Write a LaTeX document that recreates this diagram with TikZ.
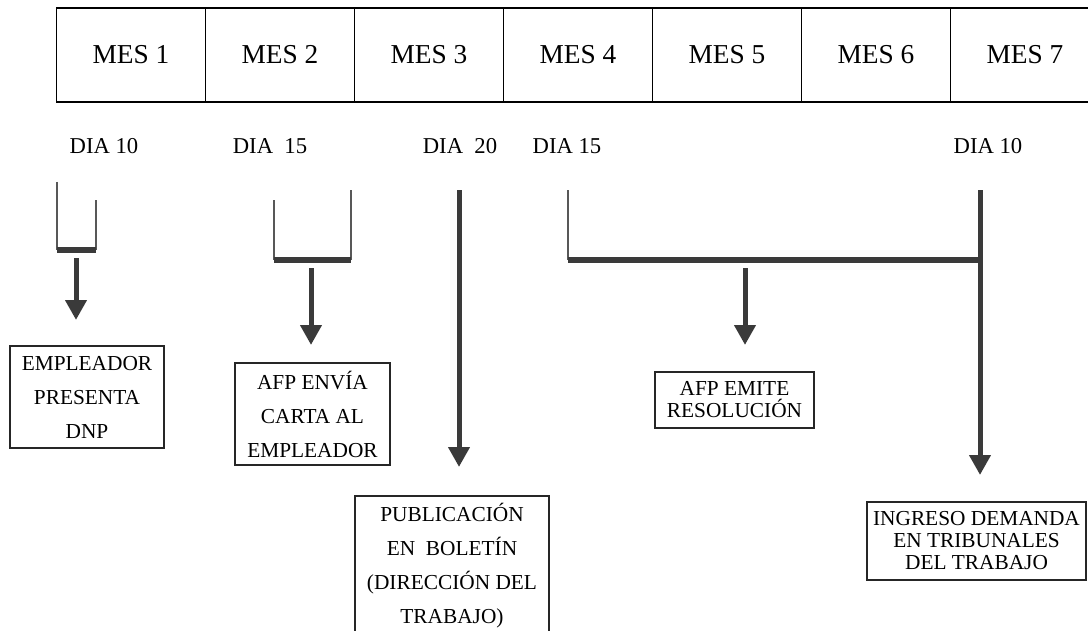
\documentclass[tikz,border=0pt]{standalone}
\usepackage{fontspec}
\setmainfont{Liberation Serif}
\usepackage{xcolor}
\usepackage{tikz}
\usetikzlibrary{positioning,arrows.meta}
\definecolor{linea}{HTML}{3A3A3A}

\begin{document}
\begin{tikzpicture}[
    x=0.75pt, y=-0.75pt,
    mes/.style={rectangle, draw=black, line width=1.1pt, minimum width=111.75pt, minimum height=70.5pt, inner sep=0pt, outer sep=0pt, font=\fontsize{20.5}{24}\selectfont},
    dia/.style={inner sep=0pt, font=\fontsize{17}{20}\selectfont},
    caja/.style={rectangle, draw=black!85, line width=1pt, align=center, inner sep=2pt, font=\fontsize{16}{25.5}\selectfont},
    cajabaja/.style={caja, font=\fontsize{16}{16.5}\selectfont},
    fino/.style={draw=linea!85, line width=0.9pt},
    barra/.style={draw=linea, line width=4.5pt},
    flecha/.style={draw=linea, line width=3.75pt, -{Triangle[width=15.5pt,length=15pt]}}
]
\useasboundingbox (0,0) rectangle (1088,631);

% Months
\node[mes] (mes1) at (131,55) {MES 1};
\node[mes] (mes2) [right=0pt of mes1] {MES 2};
\node[mes] (mes3) [right=0pt of mes2] {MES 3};
\node[mes] (mes4) [right=0pt of mes3] {MES 4};
\node[mes] (mes5) [right=0pt of mes4] {MES 5};
\node[mes] (mes6) [right=0pt of mes5] {MES 6};
\node[mes] (mes7) [right=0pt of mes6] {MES 7};

% Days
\node[dia] (dia10a) at (104,146) {DIA 10};
\node[dia] (dia15a) at (270,146) {DIA\ \ 15};
\node[dia] (dia20) at (460,146) {DIA\ \ 20};
\node[dia] (dia15b) at (567,146) {DIA 15};
\node[dia] (dia10b) at (988,146) {DIA 10};

% Bracket points
\coordinate (b1l) at (57,182);
\coordinate (b1r) at (96,200);
\coordinate (b1bl) at (57,250);
\coordinate (b1br) at (96,250);
\coordinate (b2l) at (274,200);
\coordinate (b2r) at (351,190);
\coordinate (b2bl) at (274,259.5);
\coordinate (b2br) at (351,259.5);
\coordinate (b3l) at (568,190);
\coordinate (b3bl) at (568,259.5);
\coordinate (b3br) at (980,259.5);

% Arrow ends
\coordinate (f1) at (76,258);
\coordinate (p1) at (76,320);
\coordinate (f2) at (311,268);
\coordinate (p2) at (311,345);
\coordinate (f3) at (459,190);
\coordinate (p3) at (459,467);
\coordinate (f4) at (745,268);
\coordinate (p4) at (745,345);
\coordinate (f5) at (980,190);
\coordinate (p5) at (980,475);

% Boxes
\node[caja, minimum width=115.5pt, minimum height=76.5pt] (empleador) at (87,397) {EMPLEADOR\\PRESENTA\\DNP};
\node[caja, minimum width=116.25pt, minimum height=76.5pt] (carta) at (312.5,414) {AFP ENVÍA\\CARTA AL\\EMPLEADOR};
\node[caja, minimum width=145.5pt, minimum height=105pt] (boletin) at (452,566) {PUBLICACIÓN\\EN\ \ BOLETÍN\\(DIRECCIÓN DEL\\TRABAJO)};
\node[cajabaja, minimum width=119.25pt, minimum height=42pt] (resolucion) at (734.5,400) {AFP EMITE\\RESOLUCIÓN};
\node[cajabaja, minimum width=164.25pt, minimum height=58.5pt] (demanda) at (976.5,541) {INGRESO DEMANDA\\EN TRIBUNALES\\DEL TRABAJO};

% Brackets
\draw[fino] (b1l) -- (b1bl);
\draw[fino] (b1r) -- (b1br);
\draw[barra] (b1bl) -- (b1br);
\draw[fino] (b2l) -- (b2bl);
\draw[fino] (b2r) -- (b2br);
\draw[barra] (b2bl) -- (b2br);
\draw[fino] (b3l) -- (b3bl);
\draw[barra] (b3bl) -- (b3br);

% Arrows
\draw[flecha] (f1) -- (p1);
\draw[flecha] (f2) -- (p2);
\draw[flecha] (f3) -- (p3);
\draw[flecha] (f4) -- (p4);
\draw[flecha] (f5) -- (p5);

\end{tikzpicture}
\end{document}
